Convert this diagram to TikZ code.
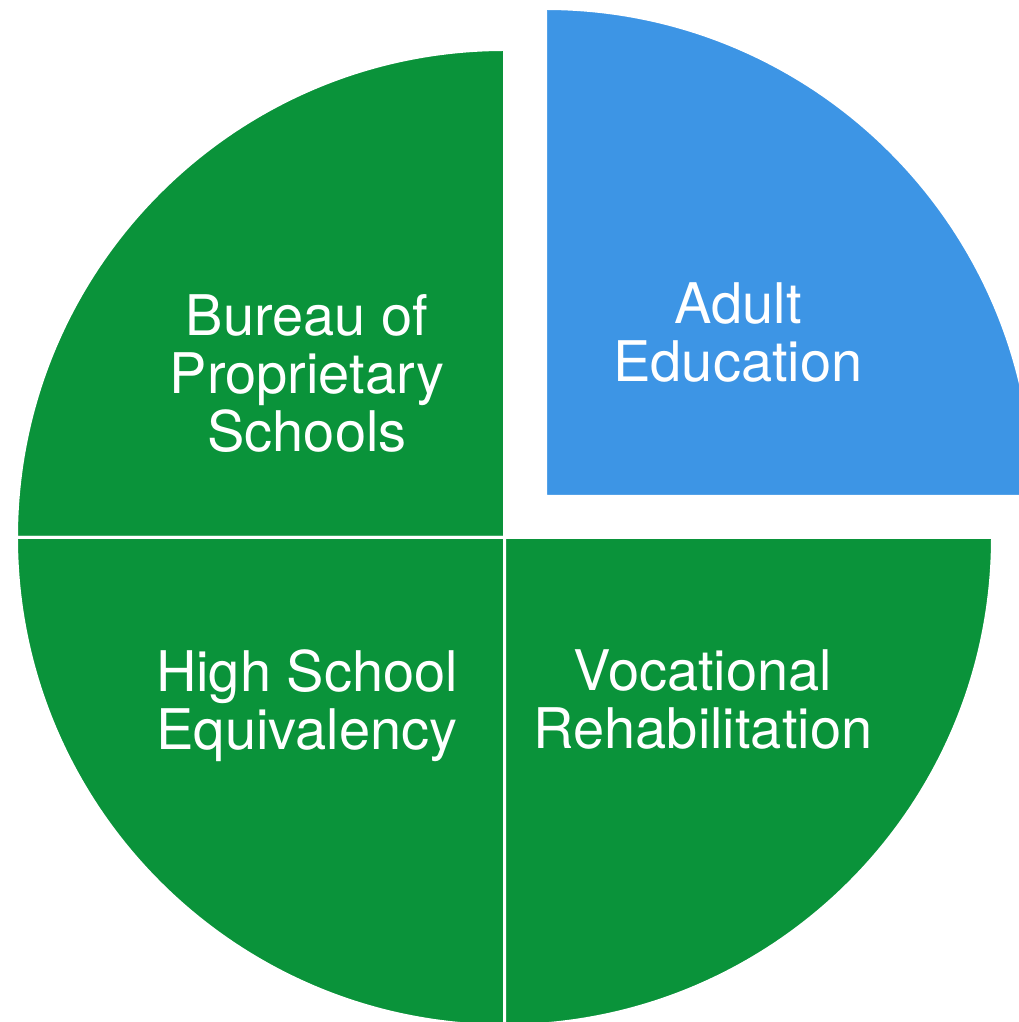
\documentclass[tikz,border=0pt]{standalone}
\usepackage{fontspec}
\setmainfont{TeX Gyre Heros}
\definecolor{piegreen}{HTML}{0A933A}
\definecolor{pieblue}{HTML}{3D95E5}
\tikzset{
  slice/.style={fill=piegreen, draw=white, line width=3pt},
  label/.style={text=white, align=center, inner sep=0pt, anchor=north,
    font=\fontsize{56}{58}\selectfont}
}
\begin{document}
\begin{tikzpicture}[x=1pt, y=1pt]
    \useasboundingbox (-504.5, -484.5) rectangle (513.5, 537.5);
    \draw[slice] (0, 0) -- (-488, 0) arc[start angle=180, end angle=90, radius=488] -- cycle;
    \draw[slice] (0, 0) -- (0, -488) arc[start angle=270, end angle=180, radius=488] -- cycle;
    \draw[slice] (0, 0) -- (488, 0) arc[start angle=0, end angle=-90, radius=488] -- cycle;
    \draw[slice, fill=pieblue] (41, 41) -- ++(0, 488) arc[start angle=90, end angle=0, radius=488] -- cycle;
    \node[label] (adult) at (233.5, 255) {Adult\\Education};
    \node[label] (bureau) at (-197.5, 243) {Bureau of\\Proprietary\\Schools};
    \node[label] (highschool) at (-197.5, -112) {High School\\Equivalency};
    \node[label] (vocational) at (198.5, -112) {Vocational\\Rehabilitation};
  \end{tikzpicture}
\end{document}
